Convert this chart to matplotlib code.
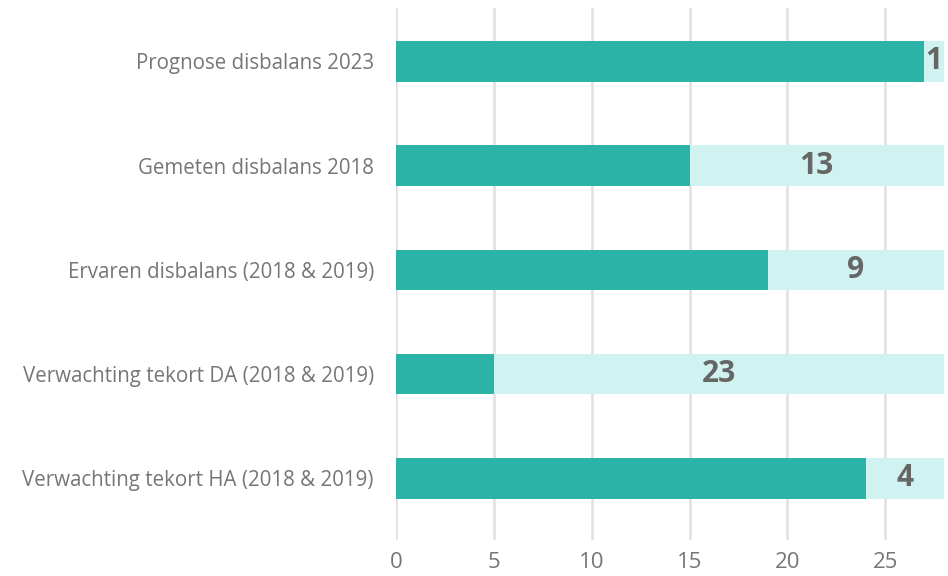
import matplotlib
matplotlib.use("Agg")
import matplotlib.pyplot as plt

# Categorieën en waarden
categories = [
    "Prognose disbalans 2023",
    "Gemeten disbalans 2018",
    "Ervaren disbalans (2018 & 2019)",
    "Verwachting tekort DA (2018 & 2019)",
    "Verwachting tekort HA (2018 & 2019)",
]
basis = [27, 15, 19, 5, 24]
tekort = [1, 13, 9, 23, 4]
xticks = [0, 5, 10, 15, 20, 25]

plt.rcParams["font.family"] = ["Open Sans", "DejaVu Sans"]

fig = plt.figure(figsize=(9.48, 5.76), dpi=100)
ax = fig.add_axes([0.4177, 0.0625, 0.5780, 0.9235])

y = list(range(len(categories)))
ax.barh(y, basis, height=0.39, color="#2bb3a7", zorder=3)
ax.barh(y, tekort, left=basis, height=0.39, color="#d0f2f0", zorder=3)

# Waardelabels in het lichte segment
for yi, b, t in zip(y, basis, tekort):
    ax.text(b + t / 2, yi, str(t), ha="center", va="center",
            fontsize=21.5, fontweight="bold", color="#666666", zorder=4)

ax.set_xlim(0, 28)
ax.set_ylim(4.59, -0.51)
ax.set_yticks(y)
ax.set_yticklabels(categories)
ax.set_xticks(xticks)

ax.grid(axis="x", color="#e0e0e0", linewidth=1.8, zorder=0)
for s in ax.spines.values():
    s.set_visible(False)
ax.tick_params(axis="y", length=0, pad=16, labelsize=14.8, labelcolor="#767676")
ax.tick_params(axis="x", length=0, pad=9, labelsize=16, labelcolor="#767676")

fig.savefig("out.png", dpi=100)
